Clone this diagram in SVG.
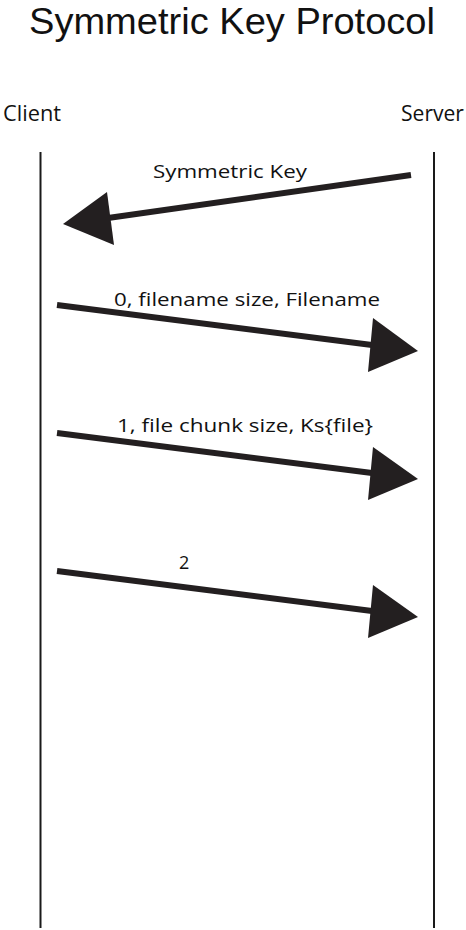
<svg xmlns="http://www.w3.org/2000/svg" width="466" height="930" viewBox="0 0 466 930">
<style>
text{font-family:"Open Sans","Liberation Sans",sans-serif;fill:#111}
.title{font-family:"Liberation Sans","Open Sans",sans-serif;font-size:37px}
.life{stroke:#1a1a1a;stroke-width:2}
.msg{stroke:#231f20;stroke-width:6;fill:none}
.head{fill:#231f20}
.lbl{font-size:18px}
.actor{font-size:21px}
</style>
<rect width="466" height="930" fill="#fff"/>
<text class="title" x="29" y="34" textLength="406" lengthAdjust="spacingAndGlyphs">Symmetric Key Protocol</text>
<g id="client">
<text class="actor" x="3" y="121" textLength="58" lengthAdjust="spacingAndGlyphs">Client</text>
<line class="life" x1="40.5" y1="152" x2="40.5" y2="928"/>
</g>
<g id="server">
<text class="actor" x="401" y="121" textLength="63" lengthAdjust="spacingAndGlyphs">Server</text>
<line class="life" x1="434" y1="152" x2="434" y2="928"/>
</g>
<g id="connectors">
<g id="m1">
<line class="msg" x1="411" y1="175" x2="108" y2="218"/>
<polygon class="head" points="63,224 107,192 114,245"/>
<text class="lbl" x="153" y="178" textLength="154" lengthAdjust="spacingAndGlyphs">Symmetric Key</text>
</g>
<g id="m2">
<line class="msg" x1="57" y1="305" x2="372" y2="345"/>
<polygon class="head" points="418,351 373,318 368,372"/>
<text class="lbl" x="114" y="306" textLength="266" lengthAdjust="spacingAndGlyphs">0, filename size, Filename</text>
</g>
<g id="m3">
<line class="msg" x1="57" y1="433" x2="372" y2="473"/>
<polygon class="head" points="418,479 373,447 368,500"/>
<text class="lbl" x="117" y="432" textLength="256" lengthAdjust="spacingAndGlyphs">1, file chunk size, Ks{file}</text>
</g>
<g id="m4">
<line class="msg" x1="57" y1="571" x2="372" y2="611"/>
<polygon class="head" points="418,617 373,585 368,638"/>
<text class="lbl" x="179" y="569">2</text>
</g>
</g>
</svg>
